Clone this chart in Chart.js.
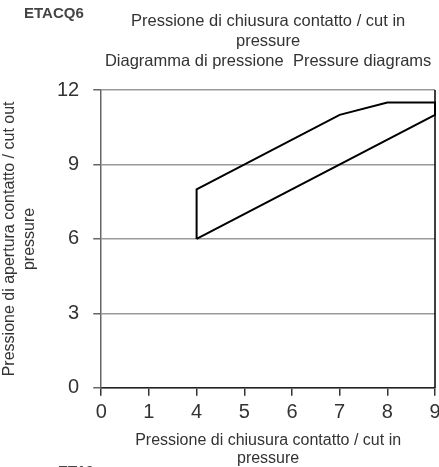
<!DOCTYPE html>
<html>
<head>
<meta charset="utf-8">
<script src="https://cdn.jsdelivr.net/npm/chart.js@4"></script>
<style>
  html, body { margin: 0; padding: 0; background: #fff; overflow: hidden; }
  #wrap { width: 439px; height: 467px; overflow: hidden; }
</style>
</head>
<body>
<div id="wrap"><canvas id="chart" width="460" height="467"></canvas></div>
<script>
// Data
const xLabels = ['0', '1', '4', '5', '6', '7', '8', '9'];
const polygonX = ['4', '4', '7', '8', '9', '9', '4'];
const polygonY = [6, 8, 11, 11.5, 11.5, 11, 6];
const yTicks = [0, 3, 6, 9, 12];

const modelName = 'ETACQ6';
const nextModelName = 'ET10';
const titleLines = ['Pressione di chiusura contatto / cut in', 'pressure', 'Diagramma di pressione  Pressure diagrams'];
const xTitle = ['Pressione di chiusura contatto / cut in', 'pressure'];
const yTitle = ['Pressione di apertura contatto / cut out', 'pressure'];

const FONT = "'Liberation Sans', Arial, sans-serif";

// Titles and the right-hand frame line
const extras = {
    id: 'extras',
    afterDraw(chart) {
        const ctx = chart.ctx;
        const area = chart.chartArea;
        ctx.save();
        ctx.strokeStyle = '#000';
        ctx.lineWidth = 1.5;
        ctx.beginPath();
        ctx.moveTo(area.right, area.top);
        ctx.lineTo(area.right, area.bottom);
        ctx.stroke();

        ctx.fillStyle = '#444';
        ctx.font = 'bold 15px ' + FONT;
        ctx.textBaseline = 'middle';
        ctx.textAlign = 'left';
        ctx.fillText(modelName, 24, 14);
        ctx.fillText(nextModelName, 58, 472);

        ctx.fillStyle = '#333';
        ctx.font = '16.5px ' + FONT;
        ctx.textAlign = 'center';
        const cx = (area.left + area.right) / 2;
        titleLines.forEach((line, i) => {
            ctx.fillText(line, cx, 21 + i * 20);
        });
        ctx.restore();
    }
};

const ctx = document.getElementById('chart').getContext('2d');
const chart = new Chart(ctx, {
    type: 'line',
    data: {
        labels: xLabels,
        datasets: [{
            data: polygonX.map((x, i) => ({ x: x, y: polygonY[i] })),
            borderColor: '#000',
            borderWidth: 2,
            pointRadius: 0,
            fill: false,
            tension: 0
        }]
    },
    options: {
        responsive: false,
        animation: false,
        layout: { padding: { top: 90, right: 25, left: 0, bottom: 0 } },
        plugins: {
            legend: { display: false },
            tooltip: { enabled: false }
        },
        scales: {
            x: {
                type: 'category',
                offset: false,
                grid: { drawOnChartArea: false, tickLength: 8, tickColor: '#333', lineWidth: 1.5 },
                border: { color: '#222', width: 1.5 },
                ticks: { color: '#333', font: { family: FONT, size: 20 }, padding: 5, maxRotation: 0, autoSkip: false },
                title: { display: true, text: xTitle, color: '#333', font: { family: FONT, size: 16, lineHeight: 1.1 }, padding: { top: 2, bottom: 0 } }
            },
            y: {
                min: 0,
                max: 12,
                afterBuildTicks: (axis) => { axis.ticks = yTicks.map(v => ({ value: v })); },
                grid: { color: '#999', lineWidth: 1.5, tickLength: 8, tickColor: '#666' },
                border: { color: '#666', width: 1.5 },
                ticks: { color: '#333', font: { family: FONT, size: 20 }, padding: 14 },
                title: { display: true, text: yTitle, color: '#333', font: { family: FONT, size: 16, lineHeight: 1.25 }, padding: { top: 0, bottom: 3 } }
            }
        }
    },
    plugins: [extras]
});
</script>
</body>
</html>
